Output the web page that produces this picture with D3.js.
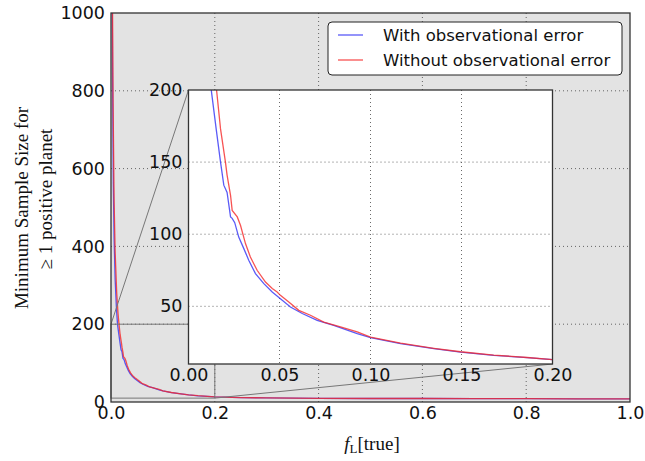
<!DOCTYPE html>
<html>
<head>
<meta charset="utf-8">
<script src="https://cdn.jsdelivr.net/npm/d3@7"></script>
<style>
  body { margin: 0; background: #fff; }
  svg { display: block; }
</style>
</head>
<body>
<div id="chart"></div>
<script>
// values
const blueF = [0.0025, 0.003, 0.0045, 0.006, 0.008, 0.0105, 0.0126, 0.0152, 0.0176, 0.0194, 0.0212, 0.0231, 0.024, 0.0254,
  0.0276, 0.0304, 0.0331, 0.0368, 0.0414, 0.046, 0.0505, 0.056, 0.0625, 0.0707, 0.0798, 0.0927, 0.1, 0.1165, 0.1348,
  0.1495, 0.1677, 0.1861, 0.2, 0.25, 0.3, 0.4, 0.5, 0.6, 0.7, 0.8, 0.9, 1.0];
const blueN = [1000, 840, 560, 420, 315, 240, 199, 173, 150, 134, 129, 112, 111, 108,
  98, 90, 82, 72.7, 65.7, 59.9, 55.3, 49.5, 45, 40.3, 36.8, 31.1, 28.3, 24.1, 20.7,
  18.3, 16, 14.4, 13, 11.5, 10.5, 9.5, 9, 9, 8.5, 8.5, 8, 8];

const redF = [0.003, 0.004, 0.006, 0.008, 0.011, 0.0135, 0.0155, 0.0176, 0.0203, 0.0212, 0.0231, 0.024, 0.0268, 0.0286,
  0.0313, 0.034, 0.0377, 0.0423, 0.046, 0.0487, 0.0505, 0.0551, 0.0606, 0.067, 0.0743, 0.0835, 0.0927, 0.1, 0.1165,
  0.1348, 0.1495, 0.1677, 0.1861, 0.2, 0.25, 0.3, 0.4, 0.5, 0.6, 0.7, 0.8, 0.9, 1.0];
const redN = [1000, 770, 515, 385, 280, 228, 199, 173, 150, 141, 127, 116.5, 112, 106,
  93.5, 84.2, 75, 66.8, 62.3, 59.9, 57.6, 53, 47.2, 43.8, 39.1, 35.7, 32.2, 28.6, 24.4,
  20.9, 18.5, 16.2, 14.5, 13.1, 11.5, 10.5, 9.5, 9, 9, 8.5, 8.5, 8, 8];

const mainXTicks = [0, 0.2, 0.4, 0.6, 0.8, 1.0];
const mainYTicks = [0, 200, 400, 600, 800, 1000];
const insetXTicks = [0, 0.05, 0.10, 0.15, 0.20];
const insetYTicks = [50, 100, 150, 200];

const series = [
  { label: 'With observational error', f: blueF, n: blueN, color: 'rgb(50,50,245)' },
  { label: 'Without observational error', f: redF, n: redN, color: 'rgb(245,40,40)' }
];

const W = 645, H = 461;
const main = { left: 111, right: 630, top: 13, bottom: 402 };
const inset = { left: 188.5, right: 552.5, top: 90, bottom: 364 };
const insetDomainY = [10, 200];

const svg = d3.select('#chart').append('svg')
  .attr('width', W).attr('height', H)
  .attr('viewBox', `0 0 ${W} ${H}`);

const x = d3.scaleLinear().domain([0, 1]).range([main.left, main.right]);
const y = d3.scaleLinear().domain([0, 1000]).range([main.bottom, main.top]);
const xi = d3.scaleLinear().domain([0, 0.2]).range([inset.left, inset.right]);
const yi = d3.scaleLinear().domain(insetDomainY).range([inset.bottom, inset.top]);

const defs = svg.append('defs');
defs.append('clipPath').attr('id', 'clip-main').append('rect')
  .attr('x', main.left).attr('y', main.top)
  .attr('width', main.right - main.left).attr('height', main.bottom - main.top);
defs.append('clipPath').attr('id', 'clip-inset').append('rect')
  .attr('x', inset.left).attr('y', inset.top)
  .attr('width', inset.right - inset.left).attr('height', inset.bottom - inset.top);

const tickFont = 'DejaVu Sans, sans-serif';
const tickSize = 17.5;
const gridStyle = g => g.attr('stroke', '#444').attr('stroke-width', 0.8).attr('stroke-dasharray', '1,3');

// ---- main axes ----
svg.append('rect')
  .attr('x', main.left).attr('y', main.top)
  .attr('width', main.right - main.left).attr('height', main.bottom - main.top)
  .attr('fill', '#e3e3e3');

const mainGrid = svg.append('g');
mainGrid.selectAll('.gx').data(mainXTicks.slice(1, -1)).join('line')
  .attr('x1', d => x(d)).attr('x2', d => x(d))
  .attr('y1', main.top).attr('y2', main.bottom)
  .call(gridStyle);
mainGrid.selectAll('.gy').data(mainYTicks.slice(1, -1)).join('line')
  .attr('class', 'gy')
  .attr('x1', main.left).attr('x2', main.right)
  .attr('y1', d => y(d)).attr('y2', d => y(d))
  .call(gridStyle);

const mainLine = d3.line().x(d => x(d[0])).y(d => y(d[1]));
const mainLines = svg.append('g').attr('clip-path', 'url(#clip-main)');
series.forEach(s => {
  mainLines.append('path')
    .attr('d', mainLine(d3.zip(s.f, s.n)))
    .attr('fill', 'none')
    .attr('stroke', s.color)
    .attr('stroke-opacity', 0.8)
    .attr('stroke-width', 1.3);
});

// zoom box + connectors (mark_inset style)
const markColor = '#777';
svg.append('rect')
  .attr('x', x(0)).attr('y', y(insetDomainY[1]))
  .attr('width', x(0.2) - x(0)).attr('height', y(insetDomainY[0]) - y(insetDomainY[1]))
  .attr('fill', 'none').attr('stroke', markColor).attr('stroke-width', 1);
svg.append('line')
  .attr('x1', x(0)).attr('y1', y(insetDomainY[1]))
  .attr('x2', inset.left).attr('y2', inset.top)
  .attr('stroke', markColor).attr('stroke-width', 1);
svg.append('line')
  .attr('x1', x(0.2)).attr('y1', y(insetDomainY[0]))
  .attr('x2', inset.right).attr('y2', inset.bottom)
  .attr('stroke', markColor).attr('stroke-width', 1);

svg.append('rect')
  .attr('x', main.left).attr('y', main.top)
  .attr('width', main.right - main.left).attr('height', main.bottom - main.top)
  .attr('fill', 'none').attr('stroke', '#333').attr('stroke-width', 1.3);

// main tick labels
const axisX = svg.append('g')
  .attr('transform', `translate(0,${main.bottom})`)
  .call(d3.axisBottom(x).tickValues(mainXTicks).tickFormat(d3.format('.1f')).tickSize(0).tickPadding(5));
axisX.select('.domain').remove();
axisX.selectAll('text').attr('font-family', tickFont).attr('font-size', tickSize).attr('fill', '#111');

const axisY = svg.append('g')
  .attr('transform', `translate(${main.left},0)`)
  .call(d3.axisLeft(y).tickValues(mainYTicks).tickFormat(d3.format('d')).tickSize(0).tickPadding(6));
axisY.select('.domain').remove();
axisY.selectAll('text').attr('font-family', tickFont).attr('font-size', tickSize).attr('fill', '#111');

// ---- inset ----
svg.append('rect')
  .attr('x', inset.left).attr('y', inset.top)
  .attr('width', inset.right - inset.left).attr('height', inset.bottom - inset.top)
  .attr('fill', '#fff');

const insetGrid = svg.append('g');
insetGrid.selectAll('.gx').data(insetXTicks.slice(1, -1)).join('line')
  .attr('x1', d => xi(d)).attr('x2', d => xi(d))
  .attr('y1', inset.top).attr('y2', inset.bottom)
  .call(gridStyle);
insetGrid.selectAll('.gy').data(insetYTicks.slice(0, -1)).join('line')
  .attr('class', 'gy')
  .attr('x1', inset.left).attr('x2', inset.right)
  .attr('y1', d => yi(d)).attr('y2', d => yi(d))
  .call(gridStyle);

const insetLine = d3.line().x(d => xi(d[0])).y(d => yi(d[1]));
const insetLines = svg.append('g').attr('clip-path', 'url(#clip-inset)');
series.forEach(s => {
  insetLines.append('path')
    .attr('d', insetLine(d3.zip(s.f, s.n)))
    .attr('fill', 'none')
    .attr('stroke', s.color)
    .attr('stroke-opacity', 0.8)
    .attr('stroke-width', 1.3);
});

svg.append('rect')
  .attr('x', inset.left).attr('y', inset.top)
  .attr('width', inset.right - inset.left).attr('height', inset.bottom - inset.top)
  .attr('fill', 'none').attr('stroke', '#333').attr('stroke-width', 1.3);

const axisXi = svg.append('g')
  .attr('transform', `translate(0,${inset.bottom})`)
  .call(d3.axisBottom(xi).tickValues(insetXTicks).tickFormat(d3.format('.2f')).tickSize(0).tickPadding(5));
axisXi.select('.domain').remove();
axisXi.selectAll('text').attr('font-family', tickFont).attr('font-size', tickSize).attr('fill', '#111');

const axisYi = svg.append('g')
  .attr('transform', `translate(${inset.left},0)`)
  .call(d3.axisLeft(yi).tickValues(insetYTicks).tickFormat(d3.format('d')).tickSize(0).tickPadding(6));
axisYi.select('.domain').remove();
axisYi.selectAll('text').attr('font-family', tickFont).attr('font-size', tickSize).attr('fill', '#111');

// ---- axis labels ----
const serif = 'Liberation Serif, DejaVu Serif, serif';
const yLab = svg.append('g').attr('font-family', serif).attr('font-size', 19).attr('fill', '#111');
yLab.append('text')
  .attr('transform', 'translate(28,208) rotate(-90)')
  .attr('text-anchor', 'middle')
  .text('Minimum Sample Size for');
yLab.append('text')
  .attr('transform', 'translate(52,199) rotate(-90)')
  .attr('text-anchor', 'middle')
  .text('\u2265 1 positive planet');

const xLab = svg.append('text')
  .attr('x', 372).attr('y', 450)
  .attr('text-anchor', 'middle')
  .attr('font-family', serif).attr('font-size', 19).attr('fill', '#111');
xLab.append('tspan').attr('font-style', 'italic').text('f');
xLab.append('tspan').attr('font-size', 13).attr('dy', 3).text('L');
xLab.append('tspan').attr('dy', -3).text('[true]');

// ---- legend ----
const legend = svg.append('g').attr('transform', 'translate(328,22)');
legend.append('rect')
  .attr('width', 294).attr('height', 53).attr('rx', 4)
  .attr('fill', '#fff').attr('stroke', '#222').attr('stroke-width', 1);
series.forEach((s, i) => {
  const row = legend.append('g').attr('transform', `translate(0,${13 + i * 25})`);
  row.append('line')
    .attr('x1', 10).attr('x2', 35)
    .attr('stroke', s.color).attr('stroke-opacity', 0.8).attr('stroke-width', 1.3);
  row.append('text')
    .attr('x', 55).attr('dy', '0.35em')
    .attr('font-family', tickFont).attr('font-size', 16.5).attr('fill', '#111')
    .text(s.label);
});
</script>
</body>
</html>
